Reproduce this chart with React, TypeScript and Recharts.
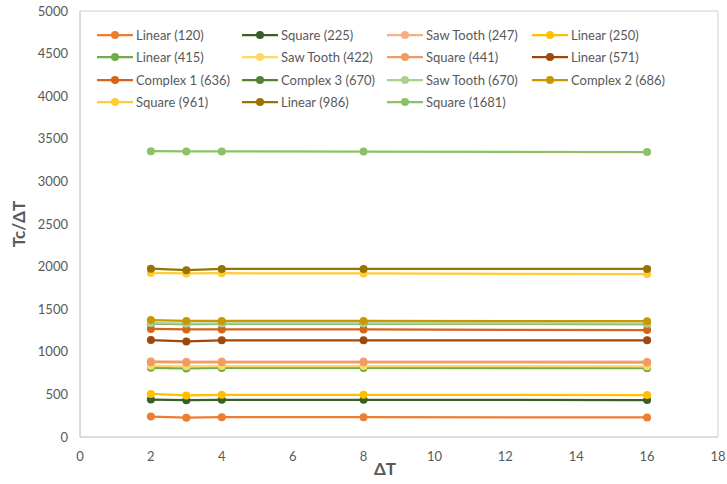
import React from "react";
import {
  LineChart,
  Line,
  XAxis,
  YAxis,
  ReferenceArea,
} from "recharts";

const deltaT = [2, 3, 4, 8, 16];

const seriesNames = [
  "Linear (120)",
  "Square (225)",
  "Saw Tooth (247)",
  "Linear (250)",
  "Linear (415)",
  "Saw Tooth (422)",
  "Square (441)",
  "Linear (571)",
  "Complex 1 (636)",
  "Complex 3 (670)",
  "Saw Tooth (670)",
  "Complex 2 (686)",
  "Square (961)",
  "Linear (986)",
  "Square (1681)",
];

const linear120 = [240, 226, 232, 232, 230];
const square225 = [440, 432, 436, 436, 434];
const sawTooth247 = [888, 884, 886, 886, 884];
const linear250 = [505, 488, 495, 495, 492];
const linear415 = [812, 805, 810, 810, 808];
const sawTooth422 = [835, 830, 833, 833, 830];
const square441 = [878, 875, 876, 876, 874];
const linear571 = [1138, 1122, 1135, 1135, 1135];
const complex1 = [1268, 1262, 1262, 1262, 1255];
const complex3 = [1330, 1325, 1328, 1328, 1325];
const sawTooth670 = [1335, 1330, 1332, 1332, 1330];
const complex2 = [1372, 1362, 1362, 1362, 1360];
const square961 = [1925, 1920, 1922, 1920, 1912];
const linear986 = [1975, 1958, 1972, 1972, 1972];
const square1681 = [3355, 3352, 3352, 3350, 3345];

const seriesValues = [
  linear120,
  square225,
  sawTooth247,
  linear250,
  linear415,
  sawTooth422,
  square441,
  linear571,
  complex1,
  complex3,
  sawTooth670,
  complex2,
  square961,
  linear986,
  square1681,
];

const colors = [
  "#ED7D31",
  "#3B5E25",
  "#F4B183",
  "#FFC000",
  "#70AD47",
  "#FFD966",
  "#F19B62",
  "#9E480E",
  "#D4651A",
  "#548235",
  "#A9D18E",
  "#C99700",
  "#FFCD33",
  "#997300",
  "#8CC168",
];

const xTicks = [0, 2, 4, 6, 8, 10, 12, 14, 16, 18];
const yTicks = [0, 500, 1000, 1500, 2000, 2500, 3000, 3500, 4000, 4500, 5000];

const data = deltaT.map((dt, i) => {
  const row: Record<string, number> = { dt };
  seriesNames.forEach((name, s) => {
    row[name] = seriesValues[s][i];
  });
  return row;
});

const FONT = "Lato, 'Liberation Sans', sans-serif";
const TEXT = "#595959";
const BORDER = "#D0D0D0";

const YTitle = (props: any) => {
  const vb = props.viewBox || { y: 11, height: 426 };
  const cx = 18;
  const cy = vb.y + vb.height / 2;
  return (
    <text
      x={cx}
      y={cy}
      transform={`rotate(-90 ${cx} ${cy})`}
      textAnchor="middle"
      dominantBaseline="central"
      fill={TEXT}
      fontSize={17}
      fontWeight="bold"
      fontFamily={FONT}
    >
      Tc/ΔT
    </text>
  );
};

const XTitle = (props: any) => {
  const vb = props.viewBox || { x: 80, width: 638, y: 437 };
  const cx = vb.x + vb.width / 2 - 14;
  return (
    <text
      x={cx}
      y={468}
      textAnchor="middle"
      dominantBaseline="central"
      fill={TEXT}
      fontSize={17}
      fontWeight="bold"
      fontFamily={FONT}
    >
      ΔT
    </text>
  );
};

const LegendBox = () => (
  <div
    style={{
      position: "absolute",
      left: 97,
      top: 24,
      width: 600,
      display: "grid",
      gridTemplateColumns: "145px 145px 145px 145px",
      rowGap: 0,
      fontFamily: FONT,
      fontSize: 13,
      color: TEXT,
    }}
  >
    {seriesNames.map((name, i) => (
      <div
        key={name}
        style={{ display: "flex", alignItems: "center", height: 22.3, whiteSpace: "nowrap" }}
      >
        <svg width={36} height={10} style={{ marginRight: 3 }}>
          <line x1={0} y1={5} x2={36} y2={5} stroke={colors[i]} strokeWidth={2.25} />
          <circle cx={18} cy={5} r={4} fill={colors[i]} />
        </svg>
        <span>{name}</span>
      </div>
    ))}
  </div>
);

export default function App() {
  return (
    <div style={{ position: "absolute", left: 0, top: 0, width: 727, height: 484, background: "#fff" }}>
      <LineChart
        width={727}
        height={484}
        data={data}
        margin={{ top: 11, right: 9, bottom: 0, left: 0 }}
      >
        <XAxis
          dataKey="dt"
          type="number"
          domain={[0, 18]}
          ticks={xTicks}
          interval={0}
          height={47}
          axisLine={{ stroke: BORDER }}
          tickLine={false}
          tickSize={6}
          tickMargin={9}
          tick={{ fill: TEXT, fontSize: 13, fontFamily: FONT }}
          label={<XTitle />}
        />
        <YAxis
          type="number"
          domain={[0, 5000]}
          ticks={yTicks}
          interval={0}
          width={80}
          axisLine={{ stroke: BORDER }}
          tickLine={false}
          tickSize={6}
          tickMargin={6}
          tick={{ fill: TEXT, fontSize: 13, fontFamily: FONT }}
          label={<YTitle />}
        />
        <ReferenceArea
          x1={0}
          x2={18}
          y1={0}
          y2={5000}
          fill="none"
          stroke={BORDER}
          strokeWidth={1}
          ifOverflow="visible"
        />
        {seriesNames.map((name, i) => (
          <Line
            key={name}
            type="linear"
            dataKey={name}
            stroke={colors[i]}
            strokeWidth={2.25}
            dot={{ r: 4, fill: colors[i], stroke: colors[i], strokeWidth: 0 }}
            activeDot={false}
            isAnimationActive={false}
          />
        ))}
      </LineChart>
      <LegendBox />
    </div>
  );
}
